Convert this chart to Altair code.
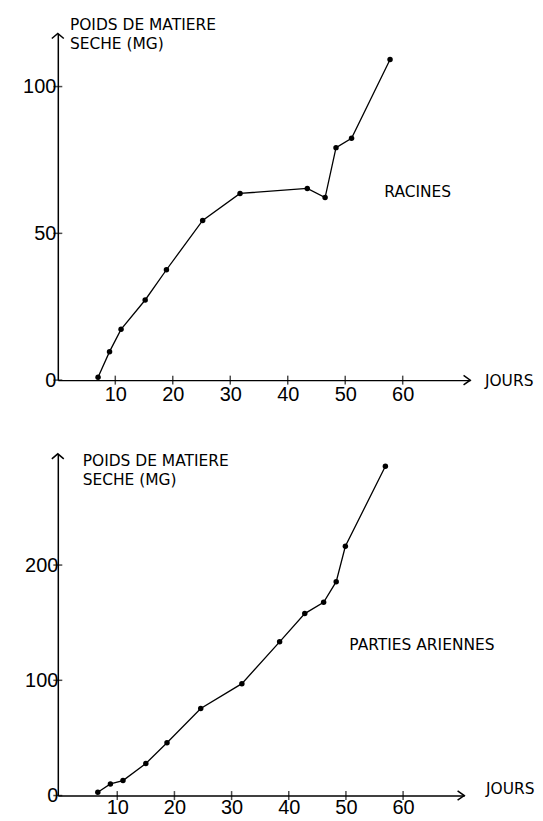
import altair as alt
import pandas as pd

# ---- data ----
# RACINES (top panel): jours, poids de matiere seche (mg)
rac_jours = [7.0, 9.0, 11.0, 15.2, 18.9, 25.2, 31.7, 43.4, 46.5, 48.4, 51.1, 57.8]
rac_poids = [1.0, 9.7, 17.3, 27.3, 37.6, 54.4, 63.6, 65.3, 62.2, 79.2, 82.4, 109.2]

# PARTIES ARIENNES (bottom panel)
aer_jours = [6.6, 8.8, 11.0, 15.0, 18.7, 24.6, 31.8, 38.4, 42.8, 46.1, 48.3, 49.9, 56.9]
aer_poids = [2.9, 10.1, 13.0, 27.9, 45.8, 75.5, 97.1, 133.4, 157.9, 167.7, 185.6, 216.3, 285.8]

x_ticks = [10, 20, 30, 40, 50, 60]
rac_y_ticks = [0, 50, 100]
aer_y_ticks = [0, 100, 200]

title_lines = ["POIDS DE MATIERE", "SECHE (MG)"]
x_title = "JOURS"

NUM_FONT = "Liberation Sans, Arial, sans-serif"
TXT_FONT = "DejaVu Sans, sans-serif"

UP_ARROW = "M-1,0.85L0,0L1,0.85"
RIGHT_ARROW = "M-1,-0.7L0,0L-1,0.7"


def panel(jours, poids, xdom, ydom, yticks, w, h, xpad, ypad, title_at, label, label_at, jours_at):
    df = pd.DataFrame({"jours": jours, "poids": poids})
    xs = alt.Scale(domain=xdom, nice=False, zero=False)
    ys = alt.Scale(domain=ydom, nice=False, zero=False)
    X = alt.X("jours:Q", scale=xs, title=None,
              axis=alt.Axis(values=x_ticks, ticks=False, grid=False, labelFont=NUM_FONT,
                            labelFontSize=20, labelColor="black", labelPadding=xpad,
                            domainColor="black", domainWidth=1.5, labelFlush=False,
                            labelOverlap=False, format="d"))
    Y = alt.Y("poids:Q", scale=ys, title=None,
              axis=alt.Axis(values=yticks, ticks=False, grid=False, labelFont=NUM_FONT,
                            labelFontSize=20, labelColor="black", labelPadding=ypad,
                            domainColor="black", domainWidth=1.5, labelFlush=False,
                            labelOverlap=False, format="d"))

    line = alt.Chart(df).mark_line(color="black", strokeWidth=1.3).encode(x=X, y=Y)
    pts = alt.Chart(df).mark_point(filled=True, color="black", size=30, opacity=1).encode(x=X, y=Y)

    xt = pd.DataFrame({"jours": x_ticks, "poids": [ydom[0]] * len(x_ticks)})
    xtick = alt.Chart(xt).mark_tick(orient="vertical", size=9, thickness=1.5,
                                    color="black").encode(x=X, y=Y)
    yt = pd.DataFrame({"jours": [xdom[0]] * len(yticks), "poids": yticks})
    ytick = alt.Chart(yt).mark_tick(orient="horizontal", size=9, thickness=1.5,
                                    color="black").encode(x=X, y=Y)

    up = pd.DataFrame({"jours": [xdom[0]], "poids": [ydom[1]]})
    uparrow = alt.Chart(up).mark_point(shape=UP_ARROW, filled=False, color="black",
                                       strokeWidth=1.5, size=144, opacity=1).encode(x=X, y=Y)
    rt = pd.DataFrame({"jours": [xdom[1]], "poids": [ydom[0]]})
    rtarrow = alt.Chart(rt).mark_point(shape=RIGHT_ARROW, filled=False, color="black",
                                       strokeWidth=1.5, size=180, opacity=1).encode(x=X, y=Y)

    tx = pd.DataFrame({
        "jours": [title_at[0], title_at[0], label_at[0], jours_at[0]],
        "poids": [title_at[1], title_at[2], label_at[1], jours_at[1]],
        "txt": title_lines + [label, x_title],
    })
    texts = alt.Chart(tx).mark_text(font=TXT_FONT, fontSize=15.5, color="black",
                                    align="left", baseline="middle").encode(
        x=X, y=Y, text="txt:N")

    return alt.layer(line, pts, xtick, ytick, uparrow, rtarrow, texts).properties(
        width=w, height=h)


top = panel(rac_jours, rac_poids, [0, 71.75], [0, 118.1], rac_y_ticks, 414, 348, 4, 2,
            (2.1, 120.8, 114.4), "RACINES", (56.8, 64.2), (74.3, -0.3))
bottom = panel(aer_jours, aer_poids, [-0.4, 70.7], [0, 296.5], aer_y_ticks, 408, 343, 2, 0,
               (3.95, 290.4, 274.0), "PARTIES ARIENNES", (50.6, 130.5), (74.5, 6.0))

chart = alt.vconcat(top, bottom, spacing=47).properties(
    padding={"left": 14, "top": 9, "right": 0, "bottom": 0},
    background="white",
).configure_view(stroke=None)

chart.save("out.html", embed_options={"renderer": "svg", "actions": False})
